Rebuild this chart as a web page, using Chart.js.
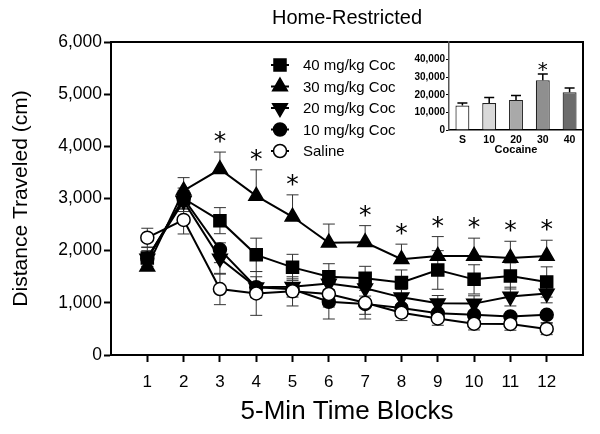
<!DOCTYPE html>
<html>
<head>
<meta charset="utf-8">
<script src="https://cdn.jsdelivr.net/npm/chart.js@4.4.0/dist/chart.umd.min.js"></script>
<style>
body { margin: 0; background: #fff; }
#wrap { position: relative; width: 600px; height: 434px; }
#inset { position: absolute; left: 395px; top: 34px; }
</style>
</head>
<body>
<div id="wrap">
<canvas id="chart" width="600" height="434"></canvas>
<canvas id="inset" width="200" height="125"></canvas>
</div>
<script>
const FONT = "'Liberation Sans', Arial, sans-serif";
const STAR_FONT = "'DejaVu Sans', sans-serif";
Chart.defaults.font.family = FONT;
Chart.defaults.color = '#000';

// time blocks (x)
const blocks = [1, 2, 3, 4, 5, 6, 7, 8, 9, 10, 11, 12];

// mean distance per block
const coc40  = [1860, 3000, 2575, 1920, 1680, 1500, 1470, 1390, 1630, 1450, 1515, 1400];
const coc30  = [1690, 3150, 3560, 3050, 2650, 2150, 2160, 1835, 1900, 1900, 1860, 1900];
const coc20  = [1850, 2950, 1850, 1300, 1310, 1370, 1280, 1105, 990, 985, 1120, 1180];
const coc10  = [1850, 3000, 2020, 1300, 1260, 1020, 980, 900, 800, 770, 740, 770];
const saline = [2250, 2590, 1265, 1180, 1220, 1170, 1000, 810, 700, 600, 595, 500];

// SEM
const err40  = [200, 200, 250, 320, 250, 250, 230, 240, 370, 280, 250, 290];
const err30  = [200, 250, 330, 500, 420, 360, 320, 290, 370, 340, 320, 300];
const err20  = [150, 200, 300, 200, 150, 150, 150, 150, 150, 150, 180, 180];
const err10  = [150, 200, 250, 200, 150, 330, 200, 150, 150, 150, 150, 150];
const errSal = [180, 270, 300, 420, 280, 250, 310, 150, 130, 120, 120, 110];

// blocks with * (30 mg/kg vs saline)
const sigBlocks = [3, 4, 5, 7, 8, 9, 10, 11, 12];

// inset: total distance
const insetLabels = ['S', '10', '20', '30', '40'];
const insetTotals = [13900, 15300, 17100, 28200, 21500];
const insetErr    = [1400, 3200, 2500, 3600, 2300];
const insetSig    = ['30'];

function pts(vals) {
    return vals.map((v, i) => ({x: blocks[i], y: v}));
}

const datasets = [
    {label: '40 mg/kg Coc', data: pts(coc40), err: err40, errDir: 'both', pointStyle: 'rect', pointRadius: 8.5, backgroundColor: '#000', order: 4},
    {label: '30 mg/kg Coc', data: pts(coc30), err: err30, errDir: 'up', pointStyle: 'triangle', pointRadius: 8.5, backgroundColor: '#000', order: 5},
    {label: '20 mg/kg Coc', data: pts(coc20), err: err20, errDir: 'both', pointStyle: 'triangle', pointRotation: 180, pointRadius: 8.5, backgroundColor: '#000', order: 3},
    {label: '10 mg/kg Coc', data: pts(coc10), err: err10, errDir: 'down', pointStyle: 'circle', pointRadius: 6.5, backgroundColor: '#000', order: 2},
    {label: 'Saline', data: pts(saline), err: errSal, errDir: 'both', pointStyle: 'circle', pointRadius: 6.5, backgroundColor: '#fff', order: 1}
];
datasets.forEach(d => {
    d.borderColor = '#000';
    d.borderWidth = 2;
    d.pointBorderWidth = 1.5;
    d.pointBorderColor = '#000';
    d.pointBackgroundColor = d.backgroundColor;
    d.tension = 0;
    d.fill = false;
});

function drawStar(ctx, x, y, size) {
    ctx.save();
    ctx.font = size + 'px ' + STAR_FONT;
    ctx.fillStyle = '#000';
    ctx.textAlign = 'center';
    ctx.textBaseline = 'alphabetic';
    const m = ctx.measureText('*');
    const off = (m.actualBoundingBoxAscent - m.actualBoundingBoxDescent) / 2;
    ctx.fillText('*', x, y + off);
    ctx.restore();
}

const errorBars = {
    id: 'errorBars',
    beforeDatasetsDraw(chart) {
        const ctx = chart.ctx;
        const xs = chart.scales.x, ys = chart.scales.y;
        ctx.save();
        ctx.strokeStyle = '#333';
        ctx.lineWidth = 1;
        chart.data.datasets.forEach(ds => {
            ds.data.forEach((p, i) => {
                const px = xs.getPixelForValue(p.x);
                const e = ds.err[i];
                const ends = [];
                if (ds.errDir !== 'down') ends.push(ys.getPixelForValue(p.y + e));
                if (ds.errDir !== 'up') ends.push(ys.getPixelForValue(p.y - e));
                const py = ys.getPixelForValue(p.y);
                ends.forEach(ey => {
                    ctx.beginPath();
                    ctx.moveTo(px, py);
                    ctx.lineTo(px, ey);
                    ctx.moveTo(px - 6, ey);
                    ctx.lineTo(px + 6, ey);
                    ctx.stroke();
                });
            });
        });
        ctx.restore();
    },
    afterDraw(chart) {
        const ctx = chart.ctx;
        const xs = chart.scales.x, ys = chart.scales.y;
        const area = chart.chartArea;

        // box: top + right
        ctx.save();
        ctx.strokeStyle = '#000';
        ctx.lineWidth = 2;
        ctx.beginPath();
        ctx.moveTo(area.left, area.top);
        ctx.lineTo(area.right, area.top);
        ctx.lineTo(area.right, area.bottom);
        ctx.stroke();

        // title
        ctx.fillStyle = '#000';
        ctx.font = '20px ' + FONT;
        ctx.textAlign = 'center';
        ctx.textBaseline = 'middle';
        ctx.fillText('Home-Restricted', (area.left + area.right) / 2, 18);
        ctx.restore();

        // asterisks over 30 mg/kg
        sigBlocks.forEach(b => {
            const i = blocks.indexOf(b);
            const top = ys.getPixelForValue(coc30[i] + err30[i]);
            drawStar(ctx, xs.getPixelForValue(b), top - 15, 25);
        });

        // legend
        const lx = 280, ly0 = 65, step = 21.5;
        chart.data.datasets.forEach((ds, k) => {
            const y = ly0 + k * step;
            ctx.save();
            ctx.strokeStyle = '#000';
            ctx.lineWidth = 2;
            ctx.beginPath();
            ctx.moveTo(lx - 9, y);
            ctx.lineTo(lx + 9, y);
            ctx.stroke();
            ctx.fillStyle = ds.backgroundColor;
            ctx.lineWidth = 1.5;
            Chart.helpers.drawPoint(ctx, {
                pointStyle: ds.pointStyle,
                radius: ds.pointRadius,
                rotation: ds.pointRotation || 0,
                borderWidth: 1.5
            }, lx, y);
            ctx.fillStyle = '#000';
            ctx.font = '15px ' + FONT;
            ctx.textAlign = 'left';
            ctx.textBaseline = 'middle';
            ctx.fillText(ds.label, 303, y + 1);
            ctx.restore();
        });
    }
};

const ctx = document.getElementById('chart').getContext('2d');
const myChart = new Chart(ctx, {
    type: 'line',
    data: {datasets: datasets},
    options: {
        responsive: false,
        animation: false,
        layout: {padding: {top: 42, right: 17, left: 0, bottom: 0}},
        plugins: {legend: {display: false}, tooltip: {enabled: false}},
        scales: {
            x: {
                type: 'linear',
                min: 0,
                max: 13,
                afterBuildTicks: s => { s.ticks = blocks.map(b => ({value: b})); },
                afterFit: s => { s.height = 79; },
                grid: {drawOnChartArea: false, tickLength: 7, tickWidth: 2, color: '#000'},
                border: {color: '#000', width: 2},
                ticks: {font: {size: 17}, color: '#000', padding: 10, autoSkip: false, maxRotation: 0},
                title: {display: true, text: '5-Min Time Blocks', font: {size: 26}, color: '#000', padding: {top: 0, bottom: 7}}
            },
            y: {
                min: 0,
                max: 6000,
                afterFit: s => { s.width = 111; },
                ticks: {stepSize: 1000, font: {size: 17.5}, color: '#000', padding: 2},
                grid: {drawOnChartArea: false, tickLength: 7, tickWidth: 2, color: '#000'},
                border: {color: '#000', width: 2},
                title: {display: true, text: 'Distance Traveled (cm)', font: {size: 21}, color: '#000', padding: {top: 9, bottom: 0}}
            }
        }
    },
    plugins: [errorBars]
});

const insetBars = {
    id: 'insetBars',
    afterDatasetsDraw(chart) {
        const c = chart.ctx;
        const xs = chart.scales.x, ys = chart.scales.y;
        c.save();
        c.strokeStyle = '#000';
        c.lineWidth = 1.5;
        insetTotals.forEach((v, i) => {
            const px = xs.getPixelForValue(i);
            const top = ys.getPixelForValue(v + insetErr[i]);
            c.beginPath();
            c.moveTo(px, ys.getPixelForValue(v));
            c.lineTo(px, top);
            c.moveTo(px - 5, top);
            c.lineTo(px + 5, top);
            c.stroke();
            if (insetSig.includes(insetLabels[i])) drawStar(c, px, top - 8, 20);
        });
        c.restore();
    }
};

new Chart(document.getElementById('inset'), {
    type: 'bar',
    data: {
        labels: insetLabels,
        datasets: [{
            data: insetTotals,
            backgroundColor: ['#ffffff', '#d9d9d9', '#a9a9a9', '#8f8f8f', '#6c6c6c'],
            borderColor: '#222',
            borderWidth: 1.2,
            barPercentage: 0.52,
            categoryPercentage: 1
        }]
    },
    options: {
        responsive: false,
        animation: false,
        layout: {padding: {top: 8, right: 12, left: 0, bottom: 0}},
        plugins: {legend: {display: false}, tooltip: {enabled: false}},
        scales: {
            x: {
                afterFit: s => { s.height = 29; },
                grid: {drawOnChartArea: false, color: 'rgba(0,0,0,0)', tickLength: 2},
                border: {color: '#000', width: 1.5},
                ticks: {font: {size: 10.5, weight: 'bold'}, color: '#000', padding: 2},
                title: {display: true, text: 'Cocaine', font: {size: 11, weight: 'bold'}, color: '#000', padding: {top: 0, bottom: 2}}
            },
            y: {
                min: 0,
                max: 50000,
                afterBuildTicks: s => { s.ticks = s.ticks.filter(t => t.value <= 40000); },
                afterFit: s => { s.width = 54; },
                ticks: {stepSize: 10000, font: {size: 10, weight: 'bold'}, color: '#000', padding: 1},
                grid: {drawOnChartArea: false, tickLength: 3, color: '#000'},
                border: {color: '#555', width: 1.5}
            }
        }
    },
    plugins: [insetBars]
});
</script>
</body>
</html>
